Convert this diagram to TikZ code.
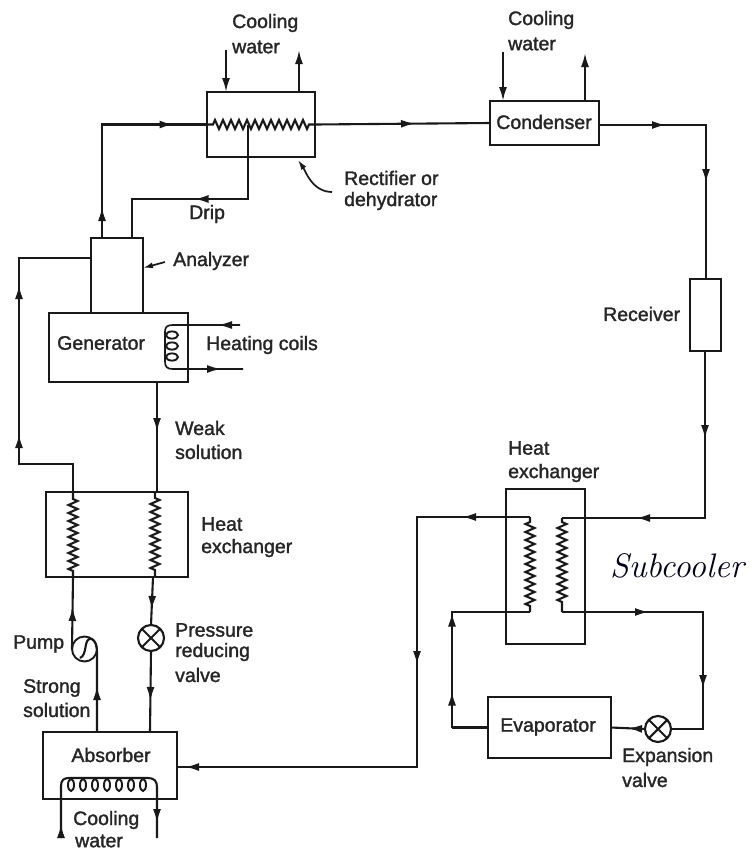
\documentclass[tikz,border=0pt]{standalone}
\usepackage{fontspec}
\newfontfamily\labfont[FakeBold=1.6]{Liberation Sans}
\usetikzlibrary{arrows.meta,decorations.pathmorphing,decorations.markings,calc}
\tikzset{
  x=1pt,y=-1pt,
  pipe/.style={line width=2.1pt,line join=miter,color=black!90},
  thinpipe/.style={line width=1.7pt,color=black!90},
  box/.style={draw=black!90,line width=2.1pt,inner sep=0pt,outer sep=0pt},
  lab/.style={font=\labfont\fontsize{19.5}{23}\selectfont,text=black!85,inner sep=0pt,anchor=west,align=left},
  clab/.style={lab,anchor=center,align=center},
  tipat/.style={postaction={decorate,decoration={markings,mark=at position #1 with {\arrow{Latex[length=14pt,width=8pt]}}}}},
  endtip/.style={-{Latex[length=14pt,width=8pt]}},
  zig/.style={decorate,decoration={zigzag,segment length=8pt,amplitude=4.5pt,pre length=6pt,post length=5pt}},
  valve/.style={circle,draw=black!90,line width=2.1pt,minimum size=26pt,inner sep=0pt,outer sep=0pt},
  loop/.style={line width=1.9pt,color=black!90}
}
\begin{document}
\begin{tikzpicture}
\useasboundingbox (0,0) rectangle (752,852);
% boxes
\node[box,minimum width=108pt,minimum height=65pt] (rect) at (261,124.5) {};
\node[box,minimum width=109pt,minimum height=44pt] (cond) at (544.5,123) {};
\node[box,minimum width=31pt,minimum height=72pt] (recv) at (705.5,315) {};
\node[box,minimum width=52pt,minimum height=75pt] (anal) at (117,275.5) {};
\node[box,minimum width=139pt,minimum height=69pt] (gen) at (118.5,347.5) {};
\node[box,minimum width=142pt,minimum height=85pt] (hxa) at (117,534.5) {};
\node[box,minimum width=79pt,minimum height=155pt] (hxb) at (545.5,566.5) {};
\node[box,minimum width=123pt,minimum height=61pt] (evap) at (549.5,727.5) {};
\node[box,minimum width=134pt,minimum height=67pt] (abs) at (110,765.5) {};
\node[valve] (pv) at (151,638) {};
\node[valve] (ev) at (658,729) {};
\node[circle,draw=black!90,line width=1.9pt,minimum size=25pt,inner sep=0pt,outer sep=0pt] (pump) at (84.5,649) {};
\foreach \v in {pv,ev}{
  \draw[pipe] (\v.45)--(\v.225) (\v.135)--(\v.315);
}
% named free ends
\coordinate (rcin) at (226,50);
\coordinate (rcout) at (299,50);
\coordinate (ccin) at (503,52);
\coordinate (ccout) at (585,53);
\coordinate (gtop) at (240,325);
\coordinate (gbot) at (243,369);
\coordinate (acl) at (61,838);
\coordinate (acr) at (157,838);
% cooling water
\draw[pipe,endtip] (rcin) -- (rcin |- rect.north);
\draw[pipe,endtip] (rcout |- rect.north) -- (rcout);
\draw[pipe,endtip] (ccin) -- (ccin |- cond.north);
\draw[pipe,endtip] (ccout |- cond.north) -- (ccout);
% vapour line
\draw[pipe,tipat=31pt,tipat=185pt] (102,0 |- anal.north) -- (102,0 |- rect.west) -- (rect.west);
\draw[pipe,zig] (rect.west) -- (rect.east);
\draw[pipe,tipat=100pt] (rect.east) -- (cond.west);
\draw[pipe,tipat=67pt,tipat=165pt] (cond.east |- 0,125) -- (706,125) -- (706,0 |- recv.north);
% drip
\draw[pipe,tipat=128pt] (248,0 |- rect.west) -- (248,199) -- (132,199) -- (132,0 |- anal.north);
% analyzer feed
\draw[pipe,tipat=112pt,tipat=261pt] (73,0 |- hxa.north) -- (73,464) -- (19,464) -- (19,258) -- (anal.west |- 0,258);
% generator out, heat exchanger
\draw[pipe,tipat=50pt] (157,0 |- gen.south) -- (157,0 |- hxa.north);
\draw[pipe,zig,decoration={pre length=6pt,post length=6pt}] (155,0 |- hxa.north) -- (155,0 |- hxa.south);
\draw[pipe,zig] (73,0 |- hxa.south) -- (73,0 |- hxa.north);
\draw[pipe,tipat=33pt] (153,0 |- hxa.south) -- (pv.north);
\draw[pipe,tipat=50pt] (pv.south) -- (150,0 |- abs.north);
\draw[pipe,tipat=42pt] (pump.west) -- (73,0 |- hxa.south);
\draw[pipe,tipat=46pt] (97,0 |- abs.north) -- (97,652) .. controls (97,643) and (93,637) .. (89,639) .. controls (84,642) and (87,655) .. (80,658);
% generator coil
\draw[thinpipe,tipat=22pt] (gtop) -- (173,325) .. controls (167,325) and (165,327) .. (165,332) -- (165,361) .. controls (165,367) and (167,369) .. (173,369) -- (gbot);
\draw[thinpipe,tipat=48pt] (173,369) -- (gbot);
\foreach \y in {335,346,357}{\draw[loop] (172,\y) ellipse (6 and 3.6);}
% absorber coil
\draw[pipe,tipat=14pt] (acl) -- (61,786) .. controls (61,780) and (64,778) .. (69,778) -- (148,778) .. controls (154,778) and (157,781) .. (157,787) -- (acr);
\foreach \x in {71,83,95,107,119,131,143}{\draw[loop] (\x,785) ellipse (3 and 6);}
\draw[pipe,tipat=23pt] (157,800) -- (acr);
% right side
\draw[pipe,tipat=88pt,tipat=236pt] (705,0 |- recv.south) -- (705,518) -- (562,518);
\draw[pipe,zig,decoration={pre length=4pt,post length=8pt}] (562,518) -- (562,612);
\draw[pipe,tipat=87pt,tipat=218pt] (562,612) -- (703,612) -- (703,729) -- (ev.east);
\draw[pipe,tipat=17pt] (ev.west) -- (evap.east);
\draw[pipe,tipat=36pt,tipat=115pt] (452,0 |- evap.west) -- (452,612) -- (530,612);
\draw[pipe] (evap.west) -- (452,0 |- evap.west);
\draw[pipe,zig,decoration={pre length=6pt,post length=5pt}] (530,612) -- (530,517);
\draw[pipe,tipat=68pt,tipat=261pt,tipat=595pt] (530,517) -- (417,517) -- (417,767) -- (abs.east |- 0,767);
% leaders
\draw[thinpipe,{Latex[length=10pt,width=6pt]}-] (298,160) .. controls (305,170) and (312,192) .. (332,192);
\draw[thinpipe,{Latex[length=10pt,width=6pt]}-] (anal.east |- 0,268) -- (165,262);
% labels
\node[lab] (t1) at (232,23) {Cooling};
\node[lab] (t2) at (232,47) {water};
\node[lab] (t3) at (508,20) {Cooling};
\node[lab] (t4) at (508,44) {water};
\node[clab] (t5) at (544,122) {Condenser};
\node[lab] (t6) at (344,178) {Rectifier or};
\node[lab] (t7) at (344,201) {dehydrator};
\node[lab] (t8) at (189,214) {Drip};
\node[lab] (t9) at (173,261) {Analyzer};
\node[lab] (t10) at (57,343) {Generator};
\node[lab] (t11) at (206,345) {Heating coils};
\node[lab] (t12) at (175,428) {Weak};
\node[lab] (t13) at (175,452) {solution};
\node[lab] (t14) at (201,524) {Heat};
\node[lab] (t15) at (201,548) {exchanger};
\node[lab] (t16) at (13,644) {Pump};
\node[lab] (t17) at (175,630) {Pressure};
\node[lab] (t18) at (175,652) {reducing};
\node[lab] (t19) at (175,675) {valve};
\node[lab] (t20) at (23,688) {Strong};
\node[lab] (t21) at (23,710) {solution};
\node[clab] (t22) at (111,755) {Absorber};
\node[lab] (t23) at (73,820) {Cooling};
\node[lab] (t24) at (75,841) {water};
\node[lab] (t25) at (603,314) {Receiver};
\node[lab] (t26) at (508,448) {Heat};
\node[lab] (t27) at (508,473) {exchanger};
\node[clab] (t28) at (548,727) {Evaporator};
\node[lab] (t29) at (622,757) {Expansion};
\node[lab] (t30) at (622,780) {valve};
\node[inner sep=0pt,text=black!90!blue,font=\itshape\fontsize{34}{36}\selectfont\addfontfeature{FakeBold=1}] (t31) at (677,566) {Subcooler};
\end{tikzpicture}
\end{document}
